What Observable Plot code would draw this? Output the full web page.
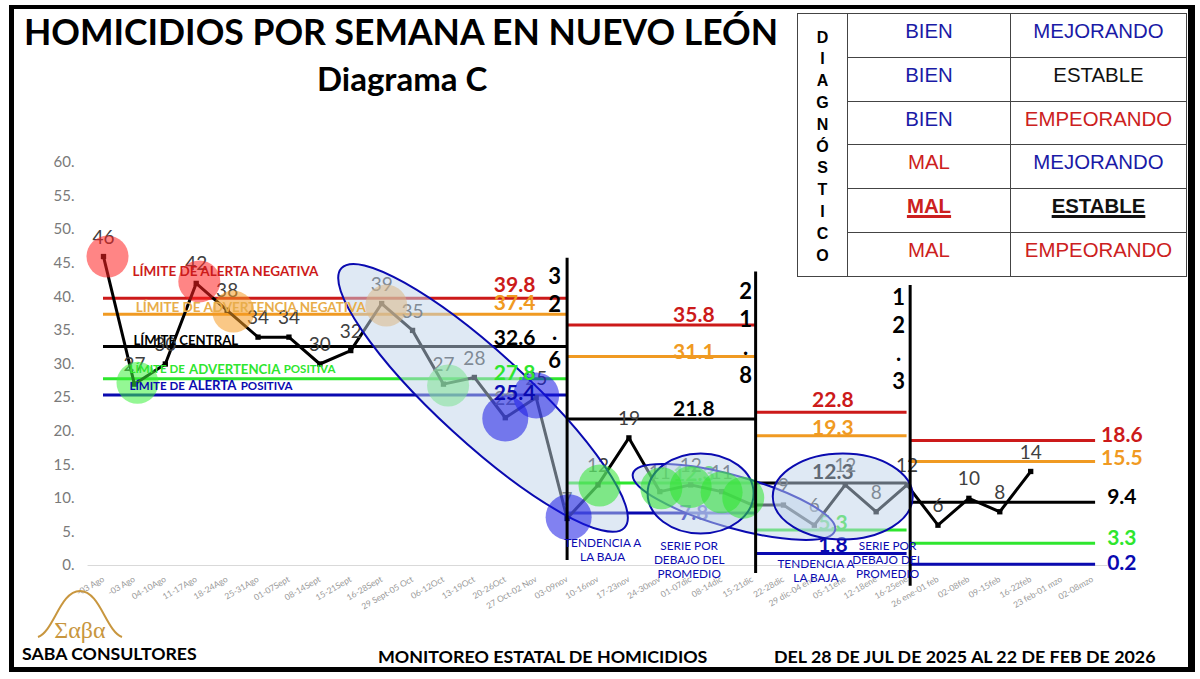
<!DOCTYPE html>
<html lang="es">
<head>
<meta charset="utf-8">
<script src="https://cdn.jsdelivr.net/npm/d3@7"></script>
<script src="https://cdn.jsdelivr.net/npm/@observablehq/plot@0.6"></script>
<style>
  html, body { margin: 0; background: #fff; }
  #page { position: relative; width: 1200px; height: 679px; overflow: hidden; font-family: Lato, sans-serif; }
  #chart { position: absolute; left: 0; top: 0; }
  #border { position: absolute; left: 9px; top: 5px; width: 1174px; height: 658px; border: solid #000; border-width: 4px 7px 5px 5px; }
  .txt { position: absolute; white-space: nowrap; font-weight: 700; color: #000; }
  #title { left: 24px; top: 10px; font-size: 35.5px; }
  #subtitle { left: 317px; top: 58px; font-size: 33px; line-height: 40px; }
  #saba { left: 22px; top: 643px; font-size: 17.7px; }
  #monitoreo { left: 378px; top: 645px; font-size: 17.85px; }
  #periodo { left: 774px; top: 645px; font-size: 17.85px; }
  #logo { position: absolute; left: 30px; top: 585px; }
  #diag { position: absolute; left: 797px; top: 13px; border-collapse: collapse; font-family: "Liberation Sans", Arial, sans-serif; font-size: 20.4px; table-layout: fixed; width: 390px; height: 264px; }
  #diag td { border: 1px solid #444; text-align: center; padding: 0 0 8px; }
  #diag td.side { width: 49px; font-size: 16px; font-weight: 700; line-height: 21.8px; padding: 3px 0 0; }
  #diag td.state { width: 162px; }
  .blue { color: #1a1aa6; }
  .red { color: #cc2020; }
  .black { color: #111; }
  .hit { font-weight: 700; text-decoration: underline; text-decoration-thickness: 3px; }
</style>
</head>
<body>
<div id="page">
  <div id="chart"></div>
  <div id="border"></div>
  <div class="txt" id="title">HOMICIDIOS POR SEMANA EN NUEVO LEÓN</div>
  <div class="txt" id="subtitle">Diagrama C</div>
  <table id="diag"></table>
  <svg id="logo" width="100" height="64" viewBox="0 0 100 64">
    <path d="M8 52 C24 46 30 6 50 6 C70 6 76 46 92 52" fill="none" stroke="#c8963e" stroke-width="2"/>
    <text x="50" y="53" text-anchor="middle" font-family="Liberation Serif" font-size="24" fill="#c8963e">Σαβα</text>
  </svg>
  <div class="txt" id="saba">SABA CONSULTORES</div>
  <div class="txt" id="monitoreo">MONITOREO ESTATAL DE HOMICIDIOS</div>
  <div class="txt" id="periodo">DEL 28 DE JUL DE 2025 AL 22 DE FEB DE 2026</div>
</div>
<script>
const weekLabels = ["-03 Ago", "-03 Ago", "04-10Ago", "11-17Ago", "18-24Ago", "25-31Ago", "01-07Sept", "08-14Sept",
  "15-21Sept", "16-28Sept", "29 Sept-05 Oct", "06-12Oct", "13-19Oct", "20-26Oct", "27 Oct-02 Nov", "03-09nov",
  "10-16nov", "17-23nov", "24-30nov", "01-07dic", "08-14dic", "15-21dic", "22-28dic", "29 dic-04 ene", "05-11ene",
  "12-18ene", "16-25ene", "26 ene-01 feb", "02-08feb", "09-15feb", "16-22feb", "23 feb-01 mzo", "02-08mzo"]
const homicides = [46, 27, 30, 42, 38, 34, 34, 30, 32, 39, 35, 27, 28, 22, 25, 7, 12, 19, 11, 12, 11, 9, 9, 6, 12, 8, 12, 6, 10, 8, 14]
const yTicks = [0, 5, 10, 15, 20, 25, 30, 35, 40, 45, 50, 55, 60]

// four periods, each with its own limits
const segStart = [0, 15, 21.1, 26.1]
const segEnd = [15, 21.1, 26, 32.1]
const alertaNeg = [39.8, 35.8, 22.8, 18.6]
const advertenciaNeg = [37.4, 31.1, 19.3, 15.5]
const central = [32.6, 21.8, 12.3, 9.4]
const advertenciaPos = [27.8, 12.3, 5.3, 3.3]
const alertaPos = [25.4, 7.8, 1.8, 0.2]
const runLengths = ["3\n2\n.\n6", "2\n1\n.\n8", "1\n2\n.\n3"]

// circles over the flagged weeks
const haloWeek = [0.13, 1.1, 3.1, 4.2, 9.15, 11.15, 13, 14, 15.05, 16.05, 18.05, 19, 20, 20.7]
const haloValue = [46, 27.2, 42.3, 37.8, 38.7, 26.8, 21.9, 25.3, 7.2, 11.9, 11.5, 11.7, 10.9, 10.1]
const haloKind = ["alerta", "buena", "alerta", "aviso", "aviso", "buena", "baja", "baja", "baja", "media", "media", "media", "media", "media"]

// ellipses, centre in chart units
const ovalWeek = [12.28, 20.4, 19.32, 23.92]
const ovalValue = [24.96, 9.46, 10.73, 10.28]

const haloStyles = {
  alerta: {fill: "#ff2020", opacity: 0.55, r: 21},
  buena: {fill: "#3cf03c", opacity: 0.55, r: 21},
  aviso: {fill: "#f59a23", opacity: 0.55, r: 21},
  baja: {fill: "#1a1ae6", opacity: 0.55, r: 23},
  media: {fill: "#2de62d", opacity: 0.55, r: 21},
}
const ovalShapes = [[192, 45, 42.5], [105, 26, 15.8], [53, 40, 0], [70, 43, 0]]
const navy = "#0a0ab0"

function ovalSymbol(rx, ry) {
  const k = 0.5523
  return {draw(ctx) {
    ctx.moveTo(rx, 0)
    ctx.bezierCurveTo(rx, ry * k, rx * k, ry, 0, ry)
    ctx.bezierCurveTo(-rx * k, ry, -rx, ry * k, -rx, 0)
    ctx.bezierCurveTo(-rx, -ry * k, -rx * k, -ry, 0, -ry)
    ctx.bezierCurveTo(rx * k, -ry, rx, -ry * k, rx, 0)
    ctx.closePath()
  }}
}

// one entry per limit line: colour and how far its number sits above the line
const limitKinds = [
  {values: alertaNeg, color: "#cc1a1a", lift: [-13, -10, -12, -5]},
  {values: advertenciaNeg, color: "#f09a22", lift: [-11, -4, -8, -3]},
  {values: central, color: "#000", lift: [-8, -10, -11, -5]},
  {values: advertenciaPos, color: "#2ee62e", lift: [-6, -9, -7, -5]},
  {values: alertaPos, color: navy, lift: [-2, 0, -8, -1]},
]
const limitLabelWeek = [13.3, 19.1, 23.6, 32.95]

const points = homicides.map((value, week) => ({week, value}))
const shownLabels = points.filter(d => d.week != 21)
const halos = haloWeek.map((week, i) => ({week, value: haloValue[i], kind: haloKind[i]}))

function limitLines(kind) {
  return Plot.ruleY(kind.values, {x1: (d, i) => segStart[i], x2: (d, i) => segEnd[i], y: d => d, stroke: kind.color, strokeWidth: 3})
}

// Plot.text has no dy channel, so every number gets its own mark
function limitNumberMarks(which) {
  return limitKinds.flatMap(kind => which.map(i => Plot.text([kind.values[i]], {
    x: limitLabelWeek[i], y: d => d, text: d => d.toFixed(1), dy: kind.lift[i],
    fill: kind.color, fontSize: 21, fontWeight: 700,
  })))
}

function haloMark(kind) {
  const s = haloStyles[kind]
  return Plot.dot(halos.filter(d => d.kind == kind), {x: "week", y: "value", r: s.r, fill: s.fill, fillOpacity: s.opacity})
}

function nameMark(t, x, y, color, size) {
  return Plot.text([t], {x: x, y: y, textAnchor: "start", fill: color, fontSize: size, fontWeight: 700})
}

function noteMark(t, x, y) {
  return Plot.text([t], {x: x, y: y, fill: navy, fontSize: 11.8, lineHeight: 1.2, fontWeight: 400})
}

const plot = Plot.plot({
  width: 1200,
  height: 679,
  marginLeft: 78,
  marginBottom: 104,
  marginTop: 100,
  marginRight: 60,
  style: {fontFamily: "Lato, sans-serif", background: "transparent", overflow: "visible"},
  x: {domain: [0, 32], range: [103, 1092]},
  y: {domain: [0, 60], range: [565, 162]},
  marks: [
    Plot.ruleY([0], {x1: -0.5, x2: 32.5, stroke: "#d9d9d9"}),
    Plot.axisY(yTicks, {tickSize: 0, tickPadding: 4, tickFormat: d => `${d}.`, fontSize: 15, fill: "#7a7a7a", label: null}),
    Plot.axisX(d3.range(weekLabels.length), {tickSize: 0, tickPadding: 3, tickRotate: -30, tickFormat: d => weekLabels[d], fontSize: 8.5, fill: "#999", label: null}),

    limitKinds.map(limitLines),
    limitNumberMarks([1, 2]),

    Plot.line(points, {x: "week", y: "value", stroke: "#000", strokeWidth: 3}),
    Plot.dot(points, {x: "week", y: "value", symbol: "square", r: 3, fill: "#000"}),
    Plot.text(shownLabels, {x: "week", y: "value", text: "value", dy: -19, fontSize: 19, fill: "#404040"}),

    ["alerta", "buena", "aviso"].map(haloMark),

    ovalWeek.map((week, i) => Plot.dot([ovalValue[i]], {
      x: week, y: d => d, symbol: ovalSymbol(ovalShapes[i][0], ovalShapes[i][1]), rotate: ovalShapes[i][2],
      fill: "#bfd3ea", fillOpacity: 0.5, stroke: navy, strokeWidth: 2,
    })),

    // these stay strong in the picture, so they go over the ellipses
    ["baja", "media"].map(haloMark),

    limitNumberMarks([0, 3]),

    Plot.ruleX([15], {y1: 0.75, y2: 45.75, strokeWidth: 3}),
    Plot.ruleX([21.1], {y1: -1.2, y2: 43.7, strokeWidth: 3}),
    Plot.ruleX([26.1], {y1: -3.1, y2: 41.7, strokeWidth: 3}),
    Plot.text([runLengths[0]], {x: 14.6, y: 36.96, fontSize: 22, lineHeight: 1.27, fontWeight: 700, fill: "#000"}),
    Plot.text([runLengths[1]], {x: 20.78, y: 34.7, fontSize: 22, lineHeight: 1.27, fontWeight: 700, fill: "#000"}),
    Plot.text([runLengths[2]], {x: 25.73, y: 33.9, fontSize: 22, lineHeight: 1.27, fontWeight: 700, fill: "#000"}),

    nameMark("LÍMITE DE ALERTA NEGATIVA", 0.94, 43.8, "#cc1a1a", 13.5),
    nameMark("LÍMITE DE ADVERTENCIA NEGATIVA", 1.04, 38.45, "#e8ad4a", 13.5),
    nameMark("LÍMITE CENTRAL", 0.97, 33.5, "#000", 13.2),
    nameMark("LÍMITE DE", 0.84, 29.2, "#2ee62e", 11.5),
    nameMark("ADVERTENCIA", 2.77, 29.2, "#2ee62e", 13.2),
    nameMark("POSITIVA", 5.83, 29.2, "#2ee62e", 11.5),
    nameMark("LÍMITE DE", 0.84, 26.7, navy, 11.5),
    nameMark("ALERTA", 2.75, 26.7, navy, 13.2),
    nameMark("POSITIVA", 4.44, 26.7, navy, 11.5),

    noteMark("TENDENCIA A\nLA BAJA", 16.15, 2.4),
    noteMark("SERIE POR\nDEBAJO DEL\nPROMEDIO", 18.95, 0.9),
    noteMark("TENDENCIA A\nLA BAJA", 23.05, -0.75),
    noteMark("SERIE POR\nDEBAJO DEL\nPROMEDIO", 25.37, 0.9),
  ],
})
document.getElementById("chart").append(plot)

// diagnosis table
const diagStates = ["BIEN", "BIEN", "BIEN", "MAL", "MAL", "MAL"]
const diagTrends = ["MEJORANDO", "ESTABLE", "EMPEORANDO", "MEJORANDO", "ESTABLE", "EMPEORANDO"]
const diagCurrent = 4
const tone = t => ({BIEN: "blue", MEJORANDO: "blue", ESTABLE: "black"})[t] || "red"
const side = "DIAGNÓSTICO".split("").join("<br>")
document.getElementById("diag").innerHTML = diagStates.map((s, i) => {
  const hit = i == diagCurrent ? " hit" : ""
  return `<tr>${i == 0 ? `<td class="side" rowspan="6">${side}</td>` : ""}` +
    `<td class="state ${tone(s)}${hit}">${s}</td><td class="${tone(diagTrends[i])}${hit}">${diagTrends[i]}</td></tr>`
}).join("")
</script>
</body>
</html>
